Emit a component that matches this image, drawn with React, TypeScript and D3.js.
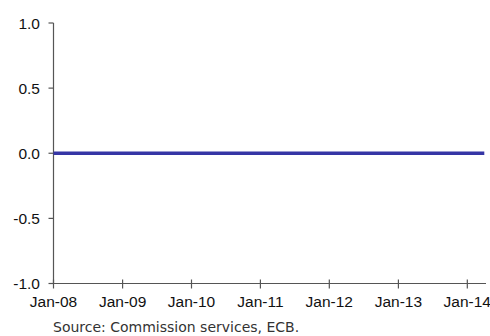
import React from "react";
import * as d3 from "d3";

const months: string[] = [];
for (let y = 2008; y <= 2014; y++) {
  for (let m = 0; m < 12; m++) {
    if (y === 2014 && m > 3) break;
    months.push(`${y}-${String(m + 1).padStart(2, "0")}`);
  }
}
// Series values (all zero)
const seriesValues: number[] = months.map(() => 0);
const yTicks = [-1.0, -0.5, 0.0, 0.5, 1.0];
const xTickLabels = ["Jan-08", "Jan-09", "Jan-10", "Jan-11", "Jan-12", "Jan-13", "Jan-14"];
const xTickYears = [2008, 2009, 2010, 2011, 2012, 2013, 2014];
const sourceText = "Source: Commission services, ECB.";

export default function App() {
  const W = 490, H = 336;
  const left = 53.5, right = 486, top = 23, bottom = 283.5;
  const x = d3.scaleTime()
    .domain([new Date(2008, 0, 1), new Date(2014, 3, 10)])
    .range([left, right]);
  const y = d3.scaleLinear().domain([-1, 1]).range([bottom, top]);
  const parse = d3.timeParse("%Y-%m");
  const data = months.map((m, i) => ({ d: parse(m) as Date, v: seriesValues[i] }));
  const line = d3.line<{ d: Date; v: number }>().x(p => x(p.d)).y(p => y(p.v));
  const font = "'Liberation Sans', Arial, sans-serif";
  return (
    <svg width={W} height={H} style={{ position: "absolute", left: 0, top: 0, background: "#fff" }}>
      <line x1={left} x2={left} y1={top} y2={bottom} stroke="#555" strokeWidth={1.2} />
      <line x1={left} x2={right} y1={bottom} y2={bottom} stroke="#555" strokeWidth={1.2} />
      {yTicks.map(t => (
        <g key={t}>
          <line x1={left - 5} x2={left} y1={y(t)} y2={y(t)} stroke="#555" strokeWidth={1.2} />
          <text x={40} y={y(t) + 5.5} textAnchor="end" fontFamily={font} fontSize={15.5} fill="#111">
            {t.toFixed(1)}
          </text>
        </g>
      ))}
      {xTickYears.map((yr, i) => (
        <g key={yr}>
          <line x1={x(new Date(yr, 0, 1))} x2={x(new Date(yr, 0, 1))} y1={bottom - 4} y2={bottom + 5} stroke="#555" strokeWidth={1.2} />
          <text x={x(new Date(yr, 0, 1))} y={306.5} textAnchor="middle" fontFamily={font} fontSize={15.5} fill="#111">
            {xTickLabels[i]}
          </text>
        </g>
      ))}
      <path d={line(data) || ""} fill="none" stroke="#3535a5" strokeWidth={3.5} />
      <text x={53} y={332} fontFamily="'DejaVu Sans', sans-serif" fontSize={14} fill="#333">
        {sourceText}
      </text>
    </svg>
  );
}
